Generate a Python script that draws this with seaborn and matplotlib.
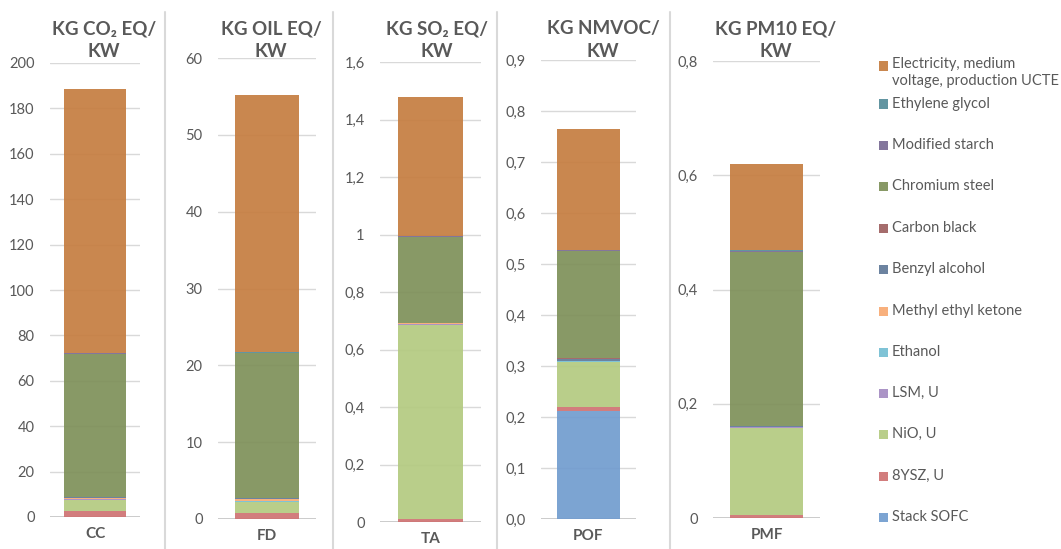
import matplotlib
matplotlib.use("Agg")
import matplotlib.pyplot as plt
import seaborn as sns
from matplotlib.patches import Rectangle
from matplotlib.lines import Line2D

# ---------------- data ----------------
categories = ["CC", "FD", "TA", "POF", "PMF"]
titles = ["KG CO\u2082 EQ/\nKW", "KG OIL EQ/\nKW", "KG SO\u2082 EQ/\nKW",
          "KG NMVOC/\nKW", "KG PM10 EQ/\nKW"]

# stack order bottom -> top
series = ["Stack SOFC", "8YSZ, U", "NiO, U", "LSM, U", "Ethanol",
          "Methyl ethyl ketone", "Benzyl alcohol", "Carbon black",
          "Chromium steel", "Modified starch", "Ethylene glycol",
          "Electricity, medium\nvoltage, production UCTE"]

stack_sofc      = [0.0,   0.0,  0.0,    0.212,  0.0]
ysz8            = [2.6,   0.8,  0.012,  0.008,  0.006]
nio             = [5.0,   1.4,  0.674,  0.087,  0.152]
lsm             = [0.2,   0.05, 0.001,  0.001,  0.001]
ethanol         = [0.3,   0.05, 0.0005, 0.001,  0.0005]
mek             = [0.4,   0.35, 0.004,  0.001,  0.0005]
benzyl_alcohol  = [0.1,   0.05, 0.001,  0.003,  0.0005]
carbon_black    = [0.2,   0.05, 0.001,  0.002,  0.0005]
chromium_steel  = [63.0,  18.8, 0.298,  0.210,  0.305]
modified_starch = [0.6,   0.1,  0.003,  0.002,  0.002]
ethylene_glycol = [0.05,  0.03, 0.0005, 0.0005, 0.001]
electricity     = [116.1, 33.5, 0.484,  0.237,  0.151]

values = [stack_sofc, ysz8, nio, lsm, ethanol, mek, benzyl_alcohol,
          carbon_black, chromium_steel, modified_starch, ethylene_glycol,
          electricity]

yticks = [
    [0, 20, 40, 60, 80, 100, 120, 140, 160, 180, 200],
    [0, 10, 20, 30, 40, 50, 60],
    [0, 0.2, 0.4, 0.6, 0.8, 1.0, 1.2, 1.4, 1.6],
    [0.0, 0.1, 0.2, 0.3, 0.4, 0.5, 0.6, 0.7, 0.8, 0.9],
    [0, 0.2, 0.4, 0.6, 0.8],
]
ytick_labels = [
    ["0", "20", "40", "60", "80", "100", "120", "140", "160", "180", "200"],
    ["0", "10", "20", "30", "40", "50", "60"],
    ["0", "0,2", "0,4", "0,6", "0,8", "1", "1,2", "1,4", "1,6"],
    ["0,0", "0,1", "0,2", "0,3", "0,4", "0,5", "0,6", "0,7", "0,8", "0,9"],
    ["0", "0,2", "0,4", "0,6", "0,8"],
]

# ---------------- style ----------------
colors = ["#719CCF", "#CF7272", "#B3CA80", "#A48BC2", "#74BED3",
          "#F8AA72", "#5F7898", "#9E5F5F", "#7E9059", "#786A94",
          "#558C99", "#C57D40"]

sns.set_theme(style="white")
FONT = ["Lato", "DejaVu Sans"]
plt.rcParams["font.family"] = FONT
TXT = "#595959"
GRID = "#D9D9D9"

W, H = 1061, 549
fig = plt.figure(figsize=(W / 100, H / 100), dpi=100)

# panel boxes in pixels: left, right, top, bottom ; bar width fraction
panels = [(50, 140, 63, 517, 0.68), (218, 316, 58, 519, 0.66),
          (380, 481, 62, 522, 0.65), (541, 636, 60, 519, 0.66),
          (713, 820, 61, 518, 0.68)]
title_x = [104, 271, 437, 603, 776]

for i, (l, r, t, b, wf) in enumerate(panels):
    ax = fig.add_axes([l / W, 1 - b / H, (r - l) / W, (b - t) / H])
    ax.set_axisbelow(True)
    ax.yaxis.grid(True, color=GRID, lw=1.0)
    bottom = 0.0
    for s, (vals, c) in enumerate(zip(values, colors)):
        v = vals[i]
        sns.barplot(x=[categories[i]], y=[v], bottom=bottom, color=c,
                    saturation=1, width=wf, errorbar=None, alpha=0.92,
                    linewidth=0, ax=ax)
        bottom += v
    ax.axhline(0, color="#BFBFBF", lw=1.2, zorder=0.5)
    ax.set_xlim(-0.5, 0.5)
    ax.set_ylim(yticks[i][0], yticks[i][-1])
    ax.set_yticks(yticks[i])
    ax.set_yticklabels(ytick_labels[i], color=TXT, fontsize=10.5)
    ax.tick_params(axis="y", length=0, pad=11)
    ax.tick_params(axis="x", length=0, pad=7)
    for lab in ax.get_xticklabels():
        lab.set_fontweight("bold")
        lab.set_color(TXT)
        lab.set_fontsize(11)
    ax.set_xlabel("")
    ax.set_ylabel("")
    for sp in ax.spines.values():
        sp.set_visible(False)
    fig.text(title_x[i] / W, 1 - 40 / H, titles[i], ha="center", va="center",
             multialignment="center", fontsize=13.5, fontweight="bold",
             color=TXT, linespacing=1.4, family=FONT)

# separators
for x in [165, 333, 497, 670]:
    fig.add_artist(Line2D([x / W, x / W], [1 - 12 / H, 0], color=GRID,
                          lw=1.5, transform=fig.transFigure))

# legend (top -> bottom order)
leg_y = [66, 104, 145, 186, 228, 269, 311, 352, 393, 434, 476, 517]
for k, (name, c) in enumerate(zip(series[::-1], colors[::-1])):
    y = leg_y[k]
    fig.add_artist(Rectangle(((879) / W, 1 - (y + 4.5) / H), 9 / W, 9 / H,
                             facecolor=c, alpha=0.92, edgecolor="none",
                             transform=fig.transFigure))
    if "\n" in name:
        fig.text(892 / W, 1 - (y - 9) / H, name, ha="left", va="top",
                 fontsize=10.5, color=TXT, linespacing=1.25)
    else:
        fig.text(892 / W, 1 - y / H, name, ha="left", va="center",
                 fontsize=10.5, color=TXT)

fig.savefig("out.png", dpi=100)
